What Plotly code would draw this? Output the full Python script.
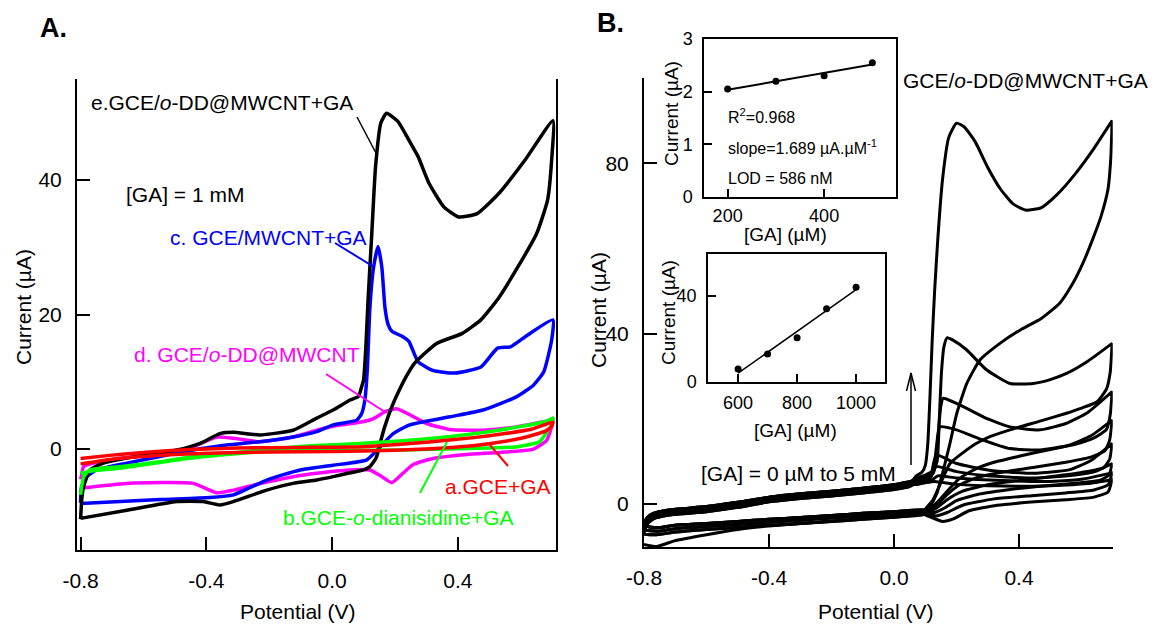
import numpy as np
import plotly.graph_objects as go

W, H = 1155, 630
FONT = "Liberation Sans, Arial, Helvetica, sans-serif"

# ======================= DATA =======================
# ---- Panel A: CVs (potential V, current uA), forward then reverse scan ----
A_e_fwd_V = [-0.8, -0.796, -0.79, -0.77, -0.728, -0.6, -0.494, -0.42, -0.357, -0.314, -0.23, -0.124, -0.049, 0.003,
             0.057, 0.083, 0.094, 0.1, 0.107, 0.114, 0.126, 0.138, 0.155, 0.173, 0.209, 0.244, 0.273, 0.308, 0.355,
             0.402, 0.461, 0.532, 0.614, 0.702]
A_e_fwd_I = [-10.4, -7.3, -5.5, -3.1, -2.1, -0.9, -0.15, 0.85, 2.3, 2.5, 2.1, 2.8, 4.6, 5.8,
             7.3, 7.8, 9.3, 10.3, 15.0, 22.0, 32.0, 42.0, 48.5, 49.9, 48.7, 45.9, 43.5, 39.5, 36.0,
             34.5, 35.0, 38.1, 43.0, 48.8]
A_e_rev_V = [0.698, 0.685, 0.65, 0.591, 0.53, 0.473, 0.414, 0.332, 0.261, 0.237, 0.214, 0.19, 0.167, 0.152, 0.14,
             0.12, 0.1, 0.05, 0.003, -0.049, -0.124, -0.208, -0.314, -0.357, -0.41, -0.494, -0.653, -0.8]
A_e_rev_I = [43.0, 37.0, 32.0, 27.1, 22.5, 19.2, 17.2, 15.7, 12.7, 10.9, 8.8, 6.3, 3.3, 0.8, -1.3,
             -2.6, -3.1, -3.6, -4.1, -4.6, -5.1, -6.1, -7.8, -8.3, -7.8, -7.8, -9.1, -10.3]

A_c_fwd_V = [-0.8, -0.797, -0.78, -0.749, -0.653, -0.548, -0.442, -0.335, -0.23, -0.124, -0.049, 0.003, 0.078, 0.094,
             0.104, 0.112, 0.12, 0.132, 0.146, 0.158, 0.168, 0.178, 0.19, 0.225, 0.244, 0.273, 0.32, 0.39, 0.473,
             0.526, 0.567, 0.614, 0.702]
A_c_fwd_I = [-8.0, -5.6, -4.1, -3.1, -2.1, -1.1, -0.15, 0.6, 1.1, 1.8, 2.6, 3.6, 4.3, 5.3,
             7.3, 12.0, 21.0, 27.1, 30.1, 27.0, 21.0, 18.5, 17.5, 16.7, 16.0, 13.0, 11.7, 11.3, 12.2,
             15.0, 15.2, 16.7, 19.2]
A_c_rev_V = [0.698, 0.673, 0.64, 0.587, 0.48, 0.375, 0.247, 0.194, 0.152, 0.11, 0.003, -0.102, -0.208, -0.314,
             -0.389, -0.548, -0.8]
A_c_rev_I = [16.2, 11.5, 9.5, 7.8, 5.8, 4.8, 3.6, 2.3, 0.3, -1.6, -2.4, -3.1, -4.6, -6.8,
             -7.2, -7.5, -8.1]

A_d_fwd_V = [-0.8, -0.797, -0.79, -0.706, -0.548, -0.442, -0.367, -0.314, -0.23, -0.124, -0.049, 0.003, 0.078,
             0.13, 0.17, 0.205, 0.247, 0.3, 0.375, 0.48, 0.587, 0.693, 0.702]
A_d_fwd_I = [-4.5, -3.9, -2.6, -1.6, -0.65, 0.35, 1.8, 1.6, 1.1, 1.8, 2.8, 3.4, 3.9,
             4.5, 5.6, 6.0, 5.1, 3.8, 2.9, 2.8, 3.3, 4.3, 4.6]
A_d_rev_V = [0.698, 0.682, 0.64, 0.534, 0.428, 0.321, 0.258, 0.225, 0.19, 0.155, 0.12, 0.057, -0.049, -0.124,
             -0.208, -0.314, -0.367, -0.442, -0.653, -0.8]
A_d_rev_I = [3.3, 1.3, 0.0, -0.5, -0.8, -1.4, -2.3, -3.6, -5.0, -4.0, -3.1, -3.1, -3.6, -4.1,
             -4.9, -6.1, -6.5, -5.1, -5.1, -5.8]

A_a_fwd_V = [-0.8, -0.7, -0.6, -0.45, -0.3, -0.1, 0.1, 0.3, 0.45, 0.55, 0.63, 0.702]
A_a_fwd_I = [-1.4, -0.9, -0.5, -0.05, 0.15, 0.25, 0.35, 1.0, 1.7, 2.3, 2.9, 4.0]
A_a_rev_V = [0.698, 0.68, 0.6, 0.5, 0.4, 0.3, 0.1, -0.1, -0.3, -0.5, -0.7, -0.8]
A_a_rev_I = [3.4, 2.7, 1.6, 0.8, 0.3, 0.0, -0.3, -0.4, -0.5, -0.8, -1.5, -2.2]

A_b_fwd_V = [-0.8, -0.79, -0.77, -0.67, -0.55, -0.44, -0.33, -0.23, -0.1, 0.1, 0.32, 0.53, 0.68, 0.702]
A_b_fwd_I = [-6.8, -4.1, -3.1, -2.6, -1.9, -1.1, -0.65, -0.15, 0.4, 0.85, 1.6, 2.8, 4.1, 4.6]
A_b_rev_V = [0.698, 0.69, 0.68, 0.66, 0.59, 0.43, 0.22, -0.1, -0.23, -0.44, -0.55, -0.67, -0.77, -0.8]
A_b_rev_I = [3.6, 3.0, 2.3, 1.1, 0.35, 0.1, -0.15, -0.25, -0.4, -1.3, -2.0, -2.8, -3.3, -3.6]

# ---- Panel B: CVs of GCE/o-DD@MWCNT at increasing [GA] ----
B_base_fwd_V = [-0.8, -0.79, -0.77, -0.72, -0.6, -0.5, -0.4, -0.3, -0.2, -0.1, 0.0, 0.05]
B_base_fwd_I1 = [-6.0, -4.0, -2.8, -2.0, -1.2, -0.2, 1.0, 1.8, 2.4, 3.1, 3.9, 4.6]
B_base_fwd_I2 = [-5.0, -3.2, -2.2, -1.4, -0.6, 0.4, 1.6, 2.4, 3.0, 3.7, 4.5, 5.2]
B_base_fwd_I3 = [-7.0, -4.8, -3.5, -2.6, -1.8, -0.8, 0.5, 1.3, 1.9, 2.6, 3.4, 4.1]
B_base_rev_V = [0.1, 0.0, -0.1, -0.2, -0.3, -0.4, -0.5, -0.6, -0.7, -0.76, -0.8]
B_base_rev_I1 = [-1.8, -2.4, -2.8, -3.3, -3.8, -4.3, -4.8, -5.3, -5.8, -6.4, -6.0]
B_base_rev_I2 = [-1.4, -1.8, -2.2, -2.7, -3.2, -3.6, -4.1, -4.6, -5.0, -5.6, -5.0]
B_base_rev_I3 = [-2.4, -3.1, -3.6, -4.1, -4.6, -5.0, -5.5, -6.0, -6.6, -7.2, -7.0]
B_base_rev_I4 = [-2.0, -2.8, -3.4, -4.0, -4.6, -5.2, -6.0, -7.2, -8.6, -10.0, -9.5]

B1_fwd_V = [0.07, 0.09, 0.1, 0.108, 0.115, 0.122, 0.13, 0.14, 0.155, 0.175, 0.2, 0.225, 0.26, 0.3, 0.34, 0.38, 0.42,
            0.47, 0.52, 0.58, 0.64, 0.698]
B1_fwd_I = [6.5, 7.5, 9.0, 14.0, 25.0, 38.0, 50.0, 62.0, 76.0, 86.0, 89.4, 88.5, 85.0, 79.0, 74.0, 70.5, 69.0,
            69.5, 72.5, 77.5, 83.5, 90.0]
B1_rev_V = [0.698, 0.694, 0.685, 0.662, 0.635, 0.605, 0.57, 0.531, 0.47, 0.403, 0.339, 0.275, 0.233, 0.201, 0.179,
            0.158, 0.137, 0.115]
B1_rev_I = [90.0, 81.5, 74.0, 67.4, 62.0, 56.6, 51.5, 47.2, 43.5, 40.8, 37.7, 33.8, 28.3, 21.3, 14.2,
            8.0, 2.5, -0.6]

B2_fwd_V = [0.07, 0.1, 0.125, 0.138, 0.145, 0.152, 0.16, 0.17, 0.19, 0.232, 0.296, 0.371, 0.446, 0.5, 0.554, 0.62, 0.698]
B2_fwd_I = [6.0, 6.8, 7.8, 10.0, 20.0, 31.0, 37.0, 39.0, 38.4, 36.2, 31.5, 28.3, 28.3, 29.2, 30.7, 33.5, 37.7]
B2_rev_V = [0.698, 0.692, 0.68, 0.65, 0.6, 0.552, 0.47, 0.371, 0.3, 0.263, 0.22, 0.179, 0.15, 0.125, 0.1]
B2_rev_I = [37.7, 31.0, 27.0, 24.0, 22.5, 21.3, 19.5, 17.4, 15.6, 14.2, 12.0, 9.5, 5.0, 1.0, -1.2]

B3_fwd_V = [0.07, 0.1, 0.125, 0.135, 0.142, 0.15, 0.157, 0.2, 0.25, 0.296, 0.371, 0.467, 0.55, 0.62, 0.698]
B3_fwd_I = [5.5, 6.3, 7.2, 10.0, 17.0, 23.0, 24.8, 23.6, 21.8, 20.1, 18.1, 17.4, 18.9, 21.5, 26.4]
B3_rev_V = [0.698, 0.692, 0.68, 0.64, 0.58, 0.5, 0.4, 0.32, 0.26, 0.21, 0.17, 0.14, 0.115, 0.1]
B3_rev_I = [26.4, 21.0, 17.5, 15.5, 14.0, 12.8, 11.2, 9.8, 8.2, 6.0, 3.0, 0.5, -1.0, -1.6]

B4_fwd_V = [0.07, 0.1, 0.122, 0.132, 0.14, 0.147, 0.2, 0.285, 0.371, 0.467, 0.56, 0.63, 0.698]
B4_fwd_I = [5.2, 6.0, 7.0, 11.0, 16.0, 18.1, 17.4, 15.0, 13.0, 12.7, 13.8, 16.0, 19.7]
B4_rev_V = [0.698, 0.69, 0.675, 0.63, 0.55, 0.45, 0.35, 0.27, 0.21, 0.17, 0.14, 0.115, 0.1]
B4_rev_I = [19.7, 15.0, 12.5, 11.0, 9.8, 8.6, 7.5, 6.3, 4.5, 2.2, 0.0, -1.3, -1.8]

B5_fwd_V = [0.07, 0.1, 0.118, 0.128, 0.136, 0.2, 0.3, 0.43, 0.56, 0.63, 0.698]
B5_fwd_I = [5.0, 5.8, 6.8, 10.0, 11.5, 9.5, 8.0, 7.2, 8.0, 10.2, 14.2]
B5_rev_V = [0.698, 0.69, 0.67, 0.6, 0.5, 0.4, 0.3, 0.22, 0.17, 0.135, 0.11]
B5_rev_I = [14.2, 10.5, 8.5, 7.4, 6.4, 5.5, 4.5, 3.0, 1.0, -1.0, -1.8]

B6_fwd_V = [0.07, 0.1, 0.118, 0.128, 0.135, 0.2, 0.3, 0.45, 0.58, 0.65, 0.698]
B6_fwd_I = [4.8, 5.5, 6.3, 8.0, 8.8, 7.6, 6.6, 6.1, 6.8, 7.8, 9.5]
B6_rev_V = [0.698, 0.688, 0.66, 0.57, 0.46, 0.36, 0.27, 0.2, 0.16, 0.13, 0.105]
B6_rev_I = [9.5, 6.8, 5.6, 4.8, 4.1, 3.3, 2.3, 0.8, -1.0, -2.0, -2.1]

B7_fwd_V = [0.07, 0.1, 0.125, 0.14, 0.2, 0.35, 0.5, 0.6, 0.698]
B7_fwd_I = [4.7, 5.2, 5.8, 6.6, 6.1, 5.5, 5.3, 5.8, 7.3]
B7_rev_V = [0.698, 0.685, 0.64, 0.55, 0.45, 0.32, 0.22, 0.17, 0.135, 0.105]
B7_rev_I = [7.3, 4.5, 3.3, 2.6, 2.0, 1.2, -0.3, -2.0, -2.8, -2.3]

B8_fwd_V = [0.07, 0.1, 0.13, 0.2, 0.35, 0.5, 0.62, 0.698]
B8_fwd_I = [4.6, 5.0, 5.3, 4.6, 4.2, 4.3, 4.8, 5.7]
B8_rev_V = [0.698, 0.685, 0.64, 0.55, 0.45, 0.33, 0.24, 0.19, 0.155, 0.125, 0.1]
B8_rev_I = [5.7, 2.8, 1.6, 1.0, 0.5, -0.3, -1.6, -3.5, -4.1, -3.3, -2.5]

# ---- Insets ----
ins1_GA = [200, 300, 400, 500]
ins1_I = [2.05, 2.2, 2.3, 2.55]
ins2_GA = [600, 700, 800, 900, 1000]
ins2_I = [6.0, 13.0, 20.6, 34.0, 44.0]

# tick labels
volt_ticks = [-0.8, -0.4, 0.0, 0.4]
volt_text = ["-0.8", "-0.4", "0.0", "0.4"]

# ======================= FIGURE =======================
def px(x):
    return x / W


def py(y):
    return 1 - y / H


fig = go.Figure()


def add_cv(V, I, color, width, xa, ya):
    fig.add_trace(go.Scatter(x=V, y=I, mode="lines", xaxis=xa, yaxis=ya,
                             line=dict(color=color, width=width, shape="spline", smoothing=0.5),
                             showlegend=False, hoverinfo="skip"))


# Panel A
add_cv(A_d_fwd_V + A_d_rev_V, A_d_fwd_I + A_d_rev_I, "#FF00FF", 3.5, "x", "y")
add_cv(A_c_fwd_V + A_c_rev_V, A_c_fwd_I + A_c_rev_I, "#0000FF", 3.5, "x", "y")
add_cv(A_e_fwd_V + A_e_rev_V, A_e_fwd_I + A_e_rev_I, "#000000", 3.5, "x", "y")
add_cv(A_b_fwd_V + A_b_rev_V, A_b_fwd_I + A_b_rev_I, "#00FF00", 3.5, "x", "y")
add_cv(A_a_fwd_V + A_a_rev_V, A_a_fwd_I + A_a_rev_I, "#FF0000", 3.5, "x", "y")

# Panel B
B_curves = [
    (B_base_fwd_I1, B1_fwd_V, B1_fwd_I, B1_rev_V, B1_rev_I, B_base_rev_I4),
    (B_base_fwd_I2, B2_fwd_V, B2_fwd_I, B2_rev_V, B2_rev_I, B_base_rev_I2),
    (B_base_fwd_I3, B3_fwd_V, B3_fwd_I, B3_rev_V, B3_rev_I, B_base_rev_I3),
    (B_base_fwd_I1, B4_fwd_V, B4_fwd_I, B4_rev_V, B4_rev_I, B_base_rev_I1),
    (B_base_fwd_I2, B5_fwd_V, B5_fwd_I, B5_rev_V, B5_rev_I, B_base_rev_I2),
    (B_base_fwd_I3, B6_fwd_V, B6_fwd_I, B6_rev_V, B6_rev_I, B_base_rev_I3),
    (B_base_fwd_I1, B7_fwd_V, B7_fwd_I, B7_rev_V, B7_rev_I, B_base_rev_I1),
    (B_base_fwd_I2, B8_fwd_V, B8_fwd_I, B8_rev_V, B8_rev_I, B_base_rev_I2),
]
for bf, fv, fi, rv, ri, br in B_curves:
    add_cv(B_base_fwd_V + fv + rv + B_base_rev_V, bf + fi + ri + br, "#000000", 3, "x2", "y2")

# Inset 1
c1 = np.polyfit(ins1_GA, ins1_I, 1)
fig.add_trace(go.Scatter(x=[ins1_GA[0], ins1_GA[-1]], y=np.polyval(c1, [ins1_GA[0], ins1_GA[-1]]),
                         mode="lines", line=dict(color="black", width=2), xaxis="x3", yaxis="y3",
                         showlegend=False, hoverinfo="skip"))
fig.add_trace(go.Scatter(x=ins1_GA, y=ins1_I, mode="markers", marker=dict(color="black", size=7),
                         xaxis="x3", yaxis="y3", showlegend=False, hoverinfo="skip"))
# Inset 2
c2 = np.polyfit(ins2_GA, ins2_I, 1)
fig.add_trace(go.Scatter(x=[ins2_GA[0], ins2_GA[-1]], y=np.polyval(c2, [ins2_GA[0], ins2_GA[-1]]),
                         mode="lines", line=dict(color="black", width=1.5), xaxis="x4", yaxis="y4",
                         showlegend=False, hoverinfo="skip"))
fig.add_trace(go.Scatter(x=ins2_GA, y=ins2_I, mode="markers", marker=dict(color="black", size=7),
                         xaxis="x4", yaxis="y4", showlegend=False, hoverinfo="skip"))


def axis(dom, rng, tickvals, ticktext=None, anchor=None, ticklen=13, lw=2, fs=21, mirror=False, standoff=0):
    d = dict(domain=dom, range=rng, tickvals=tickvals, ticks="inside", ticklen=ticklen, tickwidth=1.5,
             tickcolor="black", showline=True, linecolor="black", linewidth=lw, mirror=mirror,
             showgrid=False, zeroline=False, anchor=anchor, fixedrange=True,
             tickfont=dict(family=FONT, size=fs, color="black"), ticklabelstandoff=standoff)
    if ticktext is not None:
        d["ticktext"] = ticktext
    return d


fig.update_layout(
    width=W, height=H, margin=dict(l=0, r=0, t=0, b=0, autoexpand=False),
    paper_bgcolor="white", plot_bgcolor="white", showlegend=False,
    font=dict(family=FONT, color="black"),
    xaxis=axis([px(77), px(556)], [-0.8114, 0.7118], volt_ticks, volt_text, "y", standoff=11),
    yaxis=axis([py(550), py(79)], [-15.0, 55.0], [0, 20, 40], None, "x", mirror=True, standoff=9),
    xaxis2=axis([px(644), px(1112.75)], [-0.8, 0.7], volt_ticks, volt_text, "y2", standoff=11),
    yaxis2=axis([py(547), py(78)], [-10.1, 100.0], [0, 40, 80], None, "x2", standoff=9),
    xaxis3=axis([px(704), px(896)], [151, 549], [200, 400], None, "y3", ticklen=8, lw=1.5, fs=18,
                mirror=True, standoff=2),
    yaxis3=axis([py(197), py(39)], [0, 3], [0, 1, 2, 3], None, "x3", ticklen=8, lw=1.5, fs=18,
                mirror=True, standoff=6),
    xaxis4=axis([px(708), px(885)], [498, 1098], [600, 800, 1000], None, "y4", ticklen=8, lw=1.5, fs=18,
                mirror=True, standoff=4),
    yaxis4=axis([py(382), py(254)], [0, 59.5], [0, 40], None, "x4", ticklen=8, lw=1.5, fs=18,
                mirror=True, standoff=6),
)

ann = []


def text(x, y, s, size=21, color="black", anchor="left", angle=0):
    ann.append(dict(x=px(x), y=py(y), xref="paper", yref="paper", text=s, showarrow=False,
                    xanchor=anchor, yanchor="middle", textangle=angle,
                    font=dict(family=FONT, size=size, color=color)))


text(53.5, 28, "<b>A.</b>", size=27, anchor="center")
text(610.5, 23, "<b>B.</b>", size=27, anchor="center")
# axis titles
text(23, 307, "Current (µA)", anchor="center", angle=-90)
text(298, 611, "Potential (V)", anchor="center")
text(598, 310, "Current (µA)", anchor="center", angle=-90)
text(876, 611, "Potential (V)", anchor="center")
text(671, 114, "Current (µA)", size=19, anchor="center", angle=-90)
text(785, 234, "[GA] (µM)", size=19, anchor="center")
text(668, 313, "Current (µA)", size=19, anchor="center", angle=-90)
text(795, 430, "[GA] (µM)", size=19, anchor="center")
# panel A labels
text(89, 103, "e.GCE/<i>o</i>-DD@MWCNT+GA")
text(124, 194, "[GA] = 1 mM")
text(168, 237, "c. GCE/MWCNT+GA", color="#0000FF")
text(132, 354, "d. GCE/<i>o</i>-DD@MWCNT", color="#FF00FF")
text(443, 486, "a.GCE+GA", color="#FF0000")
text(281, 517, "b.GCE-<i>o</i>-dianisidine+GA", color="#00FF00")
# panel B labels
text(901, 80, "GCE/<i>o</i>-DD@MWCNT+GA")
text(699, 473, "[GA] = 0 µM to 5 mM")
text(726, 116, "R<sup>2</sup>=0.968", size=16)
text(726, 147, "slope=1.689 µA.µM<sup>-1</sup>", size=16)
text(726, 178, "LOD = 586 nM", size=16)
fig.update_layout(annotations=ann)

shapes = []


def seg(x0, y0, x1, y1, color="black", w=1.5):
    shapes.append(dict(type="line", xref="paper", yref="paper", x0=px(x0), y0=py(y0), x1=px(x1), y1=py(y1),
                       line=dict(color=color, width=w)))


seg(357, 117, 377, 155)
seg(335, 243, 374, 267, "#0000FF", 2)
seg(326, 374, 385, 412, "#FF00FF", 2)
seg(490, 445, 508, 466, "#FF0000", 2)
seg(447, 442, 420, 493, "#00FF00", 2)
# arrow in panel B
seg(911, 465, 911, 373)
shapes.append(dict(type="path", xref="paper", yref="paper",
                   path=f"M {px(906.5)} {py(391)} L {px(911)} {py(373)} L {px(915.5)} {py(391)}",
                   line=dict(color="black", width=1.5)))
fig.update_layout(shapes=shapes)

fig.write_html("out.html")
